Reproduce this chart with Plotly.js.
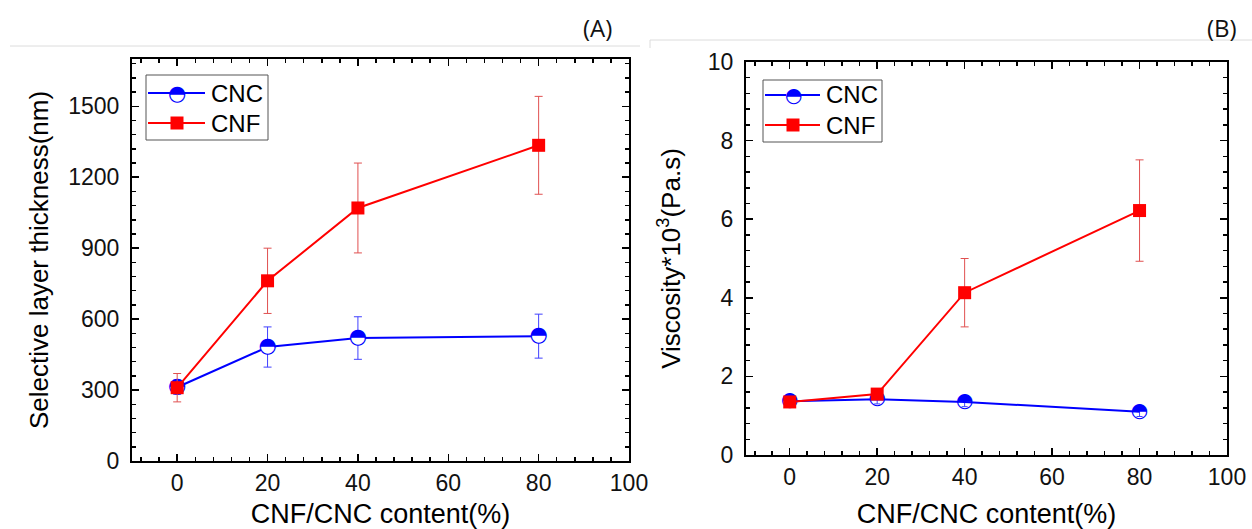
<!DOCTYPE html>
<html>
<head>
<meta charset="utf-8">
<script src="https://cdn.plot.ly/plotly-3.0.1.min.js"></script>
<style>html,body{margin:0;padding:0;background:#fff;}#chart{width:1252px;height:529px;}</style>
</head>
<body>
<div id="chart"></div>
<script>
// ---- data ----
const contentPct = [0, 20, 40, 80];
const seriesNames = ['CNC', 'CNF'];
const thicknessCNC = [312, 482, 520, 528];
const thicknessCNCErr = [30, 85, 90, 93];
const thicknessCNF = [310, 762, 1070, 1335];
const thicknessCNFErr = [60, 138, 190, 207];
const viscosityCNC = [1.37, 1.42, 1.35, 1.10];
const viscosityCNCErr = [0.12, 0.12, 0.12, 0.12];
const viscosityCNF = [1.35, 1.55, 4.13, 6.22];
const viscosityCNFErr = [0.1, 0.1, 0.87, 1.29];
const xTitle = 'CNF/CNC content(%)';
const yTitleA = 'Selective layer thickness(nm)';
const yTitleB = 'Viscosity*10<sup>3</sup>(Pa.s)';
const panelLabels = ['(A)', '(B)'];

const BLUE = '#0000ff', RED = '#ff0000';
const HALF = '\u25D3';
const W = 1252, H = 529;
const px = x => x / W, py = y => 1 - y / H;

const traces = [
  // Panel A
  {x: contentPct, y: thicknessCNC, xaxis: 'x', yaxis: 'y', mode: 'lines+markers', name: seriesNames[0],
   line: {color: BLUE, width: 2},
   marker: {symbol: 'circle', size: 14, color: '#ffffff', line: {width: 0}},
   error_y: {type: 'data', array: thicknessCNCErr, visible: true, color: '#4040ff', thickness: 1, width: 4}},
  {x: contentPct, y: thicknessCNC, xaxis: 'x', yaxis: 'y', mode: 'text', text: contentPct.map(() => HALF),
   textposition: 'middle center', textfont: {family: 'DejaVu Sans', size: 21, color: BLUE}, showlegend: false, hoverinfo: 'skip'},
  {x: contentPct, y: thicknessCNF, xaxis: 'x', yaxis: 'y', mode: 'lines+markers', name: seriesNames[1],
   line: {color: RED, width: 2},
   marker: {symbol: 'square', size: 13, color: RED, line: {width: 0}},
   error_y: {type: 'data', array: thicknessCNFErr, visible: true, color: '#e05050', thickness: 1, width: 4}},
  // Panel B
  {x: contentPct, y: viscosityCNC, xaxis: 'x2', yaxis: 'y2', mode: 'lines+markers', name: seriesNames[0],
   line: {color: BLUE, width: 2},
   marker: {symbol: 'circle', size: 13, color: 'rgba(255,255,255,0)', line: {width: 0}},
   error_y: {type: 'data', array: viscosityCNCErr, visible: true, color: '#4040ff', thickness: 1, width: 3}},
  {x: contentPct, y: viscosityCNC, xaxis: 'x2', yaxis: 'y2', mode: 'text', text: contentPct.map(() => HALF),
   textposition: 'middle center', textfont: {family: 'DejaVu Sans', size: 20, color: BLUE}, showlegend: false, hoverinfo: 'skip'},
  {x: contentPct, y: viscosityCNF, xaxis: 'x2', yaxis: 'y2', mode: 'lines+markers', name: seriesNames[1],
   line: {color: RED, width: 2},
   marker: {symbol: 'square', size: 13, color: RED, line: {width: 0}},
   error_y: {type: 'data', array: viscosityCNFErr, visible: true, color: '#e05050', thickness: 1, width: 4}}
];

function axis(extra) {
  return Object.assign({
    showline: true, linecolor: '#000', linewidth: 2, mirror: 'ticks',
    ticks: 'inside', ticklen: 7, tickwidth: 1.5, tickcolor: '#000',
    showgrid: false, zeroline: false, automargin: false,
    tickfont: {family: 'Liberation Sans, Arial, sans-serif', size: 23, color: '#111'}
  }, extra);
}
function minor(d) {
  return {ticks: 'inside', ticklen: 4, tickwidth: 1.5, tickcolor: '#000', dtick: d, showgrid: false};
}

const shapes = [];
const annotations = [];

// decorative separator lines
shapes.push({type: 'line', xref: 'paper', yref: 'paper', x0: px(10), x1: px(640), y0: py(46), y1: py(46), line: {color: '#dcdcdc', width: 1}});
shapes.push({type: 'line', xref: 'paper', yref: 'paper', x0: px(650), x1: px(1252), y0: py(40), y1: py(40), line: {color: '#dcdcdc', width: 1}});
shapes.push({type: 'line', xref: 'paper', yref: 'paper', x0: px(650), x1: px(650), y0: py(40), y1: py(48), line: {color: '#dcdcdc', width: 1}});

annotations.push({xref: 'paper', yref: 'paper', x: px(597), y: py(28), text: panelLabels[0], showarrow: false, xanchor: 'center', yanchor: 'middle', font: {family: 'Open Sans, Noto Sans, sans-serif', size: 24, color: '#111'}});
annotations.push({xref: 'paper', yref: 'paper', x: px(1222), y: py(28), text: panelLabels[1], showarrow: false, xanchor: 'center', yanchor: 'middle', font: {family: 'Open Sans, Noto Sans, sans-serif', size: 24, color: '#111'}});

function legend(box, rows, lineX, markX, textX, glyphSize) {
  shapes.push({type: 'rect', xref: 'paper', yref: 'paper', x0: px(box[0]), x1: px(box[1]), y0: py(box[3]), y1: py(box[2]), line: {color: '#555', width: 1}, fillcolor: 'rgba(0,0,0,0)', layer: 'above'});
  // CNC row
  shapes.push({type: 'line', xref: 'paper', yref: 'paper', x0: px(lineX[0]), x1: px(lineX[1]), y0: py(rows[0]), y1: py(rows[0]), line: {color: BLUE, width: 2}, layer: 'above'});
  shapes.push({type: 'circle', xref: 'paper', yref: 'paper', x0: px(markX - 7), x1: px(markX + 7), y0: py(rows[0] + 7), y1: py(rows[0] - 7), fillcolor: '#fff', line: {width: 0}, layer: 'above'});
  annotations.push({xref: 'paper', yref: 'paper', x: px(markX), y: py(rows[0]), text: HALF, showarrow: false, xanchor: 'center', yanchor: 'middle', font: {family: 'DejaVu Sans', size: glyphSize, color: BLUE}});
  annotations.push({xref: 'paper', yref: 'paper', x: px(textX), y: py(rows[0]), text: seriesNames[0], showarrow: false, xanchor: 'left', yanchor: 'middle', font: {family: 'Liberation Sans, Arial, sans-serif', size: 24, color: '#000'}});
  // CNF row
  shapes.push({type: 'line', xref: 'paper', yref: 'paper', x0: px(lineX[0]), x1: px(lineX[1]), y0: py(rows[1]), y1: py(rows[1]), line: {color: RED, width: 2}, layer: 'above'});
  shapes.push({type: 'rect', xref: 'paper', yref: 'paper', x0: px(markX - 6.5), x1: px(markX + 6.5), y0: py(rows[1] + 6.5), y1: py(rows[1] - 6.5), fillcolor: RED, line: {width: 0}, layer: 'above'});
  annotations.push({xref: 'paper', yref: 'paper', x: px(textX), y: py(rows[1]), text: seriesNames[1], showarrow: false, xanchor: 'left', yanchor: 'middle', font: {family: 'Liberation Sans, Arial, sans-serif', size: 24, color: '#000'}});
}
legend([146, 268, 75, 140], [93, 123], [148, 205], 177, 209, 21);
legend([763, 882, 80, 142], [95, 125], [765, 820], 793, 824, 20);

const titleFont = {family: 'Liberation Sans, Arial, sans-serif', size: 26, color: '#000'};

const layout = {
  width: W, height: H,
  margin: {l: 0, r: 0, t: 0, b: 0},
  paper_bgcolor: '#fff', plot_bgcolor: '#fff',
  showlegend: false,
  font: {family: 'Liberation Sans, Arial, sans-serif', color: '#000'},
  xaxis: axis({domain: [px(132), px(629)], range: [-10, 100], tick0: 0, dtick: 20, anchor: 'y', minor: minor(4), ticklabelstandoff: 0,
    title: {text: xTitle, font: Object.assign({}, titleFont, {size: 27}), standoff: 12}}),
  yaxis: axis({domain: [py(461), py(59)], range: [0, 1700], tick0: 0, dtick: 300, anchor: 'x', minor: minor(60), ticklabelstandoff: 6,
    title: {text: yTitleA, font: titleFont, standoff: 12}}),
  xaxis2: axis({domain: [px(746), px(1227)], range: [-10, 100], tick0: 0, dtick: 20, anchor: 'y2', minor: minor(4), ticklabelstandoff: 0,
    title: {text: xTitle, font: Object.assign({}, titleFont, {size: 27}), standoff: 18}}),
  yaxis2: axis({domain: [py(455), py(62)], range: [0, 10], tick0: 0, dtick: 2, anchor: 'x2', minor: minor(0.4), ticklabelstandoff: 6,
    title: {text: yTitleB, font: titleFont, standoff: 20}}),
  shapes: shapes,
  annotations: annotations
};

Plotly.newPlot('chart', traces, layout, {staticPlot: true, displayModeBar: false});
</script>
</body>
</html>
